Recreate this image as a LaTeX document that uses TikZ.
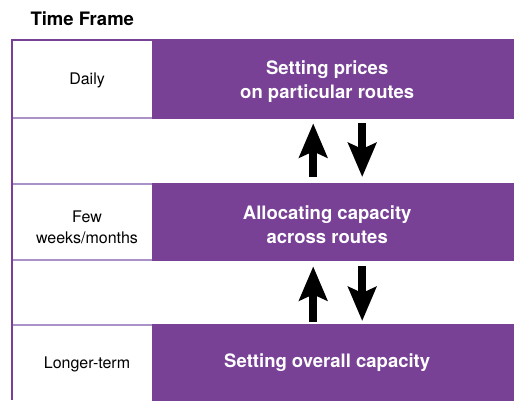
\documentclass[tikz,border=0pt]{standalone}
\usepackage{fontspec}
\setmainfont{TeX Gyre Heros}
\usetikzlibrary{arrows.meta}
\definecolor{plum}{RGB}{120,65,150}
\definecolor{lilac}{RGB}{170,145,200}

\begin{document}
\begin{tikzpicture}[x=1pt,y=-1pt,>=Stealth,
    box/.style={fill=plum,draw=none,minimum width=362pt,anchor=north west,inner sep=0pt},
    boxtext/.style={text=white,font=\fontsize{18.5}{24}\selectfont\bfseries,align=center},
    frametext/.style={font=\fontsize{16}{21}\selectfont,align=center},
    flow/.style={-{Stealth[length=34pt,width=28pt,inset=6pt]},line width=8pt}]
            \useasboundingbox (0,0) rectangle (514,400);
            \node[anchor=west,font=\fontsize{18.5}{22}\selectfont\bfseries] (title) at (27,19) {Time Frame};
            % purple blocks
            \node[box,minimum height=79pt] (daily) at (152,40) {};
            \node[box,minimum height=78pt] (weeks) at (152,183) {};
            \node[box,minimum height=77pt] (longer) at (152,324) {};
            \node[boxtext] (daytext) at ([xshift=-6pt,yshift=-2pt]daily.center) {Setting prices\\on particular routes};
            \node[boxtext] (weektext) at ([xshift=-6pt,yshift=-2pt]weeks.center) {Allocating capacity\\across routes};
            \node[boxtext] (longtext) at ([xshift=-6pt]longer.center) {Setting overall capacity};
            % time frame column
            \node[frametext] (dayframe) at (87,80) {Daily};
            \node[frametext] (weekframe) at (87,227) {Few\\weeks/months};
            \node[frametext] (longframe) at (87,364) {Longer-term};
            \foreach \y in {118,184,260,325}
                \draw[lilac,line width=1.5pt] (12,\y) -- (152,\y);
            \draw[plum,line width=2.5pt] (12,400) -- (12,40) -- (514,40);
            % arrows
            \draw[flow] ([xshift=-14pt,yshift=6pt]weeks.north -| daytext) -- ([xshift=-14pt,yshift=-4pt]daily.south -| daytext);
            \draw[flow] ([xshift=35pt,yshift=-4pt]daily.south -| daytext) -- ([xshift=35pt,yshift=6pt]weeks.north -| daytext);
            \draw[flow] ([xshift=-14pt,yshift=2pt]longer.north -| daytext) -- ([xshift=-14pt,yshift=-5pt]weeks.south -| daytext);
            \draw[flow] ([xshift=35pt,yshift=-5pt]weeks.south -| daytext) -- ([xshift=35pt,yshift=3pt]longer.north -| daytext);
        \end{tikzpicture}
\end{document}
